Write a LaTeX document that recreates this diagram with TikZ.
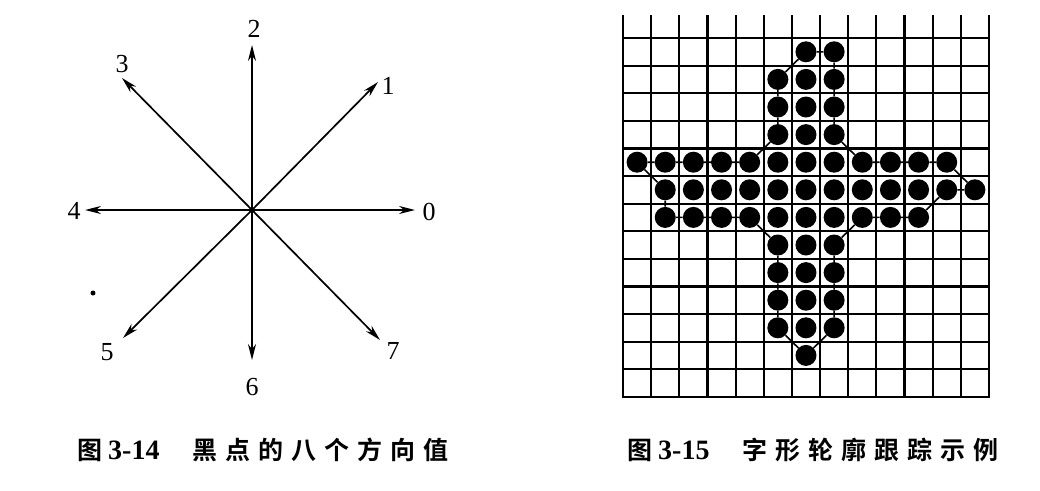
\documentclass[tikz,border=0pt]{standalone}
\usepackage{fontspec}
\setmainfont{Liberation Serif}
\newfontfamily\cjk{Noto Sans CJK SC}[BoldFont={Noto Sans CJK SC Bold}]
\usetikzlibrary{arrows.meta}
\tikzset{
  dirarrow/.style={line width=1.7pt,-{Stealth[length=16pt,width=8pt]}},
  dirlabel/.style={font=\fontsize{26}{28}\selectfont,inner sep=0pt},
  gridline/.style={line width=2.2pt},
  contour/.style={line width=1.6pt},
  dot/.style={circle,fill=black,inner sep=0pt,minimum size=21pt},
  caption/.style={anchor=west,inner sep=0pt},
}
\begin{document}
\begin{tikzpicture}[x=1pt,y=-1pt]
\useasboundingbox (0,0) rectangle (1040,490);
% ---- left: eight directions ----
\coordinate (O) at (252,210);
\coordinate (t0) at (415,210);
\coordinate (t1) at (378,82);
\coordinate (t2) at (252,45);
\coordinate (t3) at (122,78);
\coordinate (t4) at (85,210);
\coordinate (t5) at (123,338);
\coordinate (t6) at (252,360);
\coordinate (t7) at (380,340);
\foreach \k in {0,...,7} {\draw[dirarrow] (O) -- (t\k);}
\fill (O) circle (3);
\node[dirlabel] (l0) at (429,212) {0};
\node[dirlabel] (l1) at (388,86) {1};
\node[dirlabel] (l2) at (254,29) {2};
\node[dirlabel] (l3) at (122,64) {3};
\node[dirlabel] (l4) at (74,211) {4};
\node[dirlabel] (l5) at (107,352) {5};
\node[dirlabel] (l6) at (252,387) {6};
\node[dirlabel] (l7) at (393,351) {7};
\fill (93,293) circle (2.5);
% ---- right: grid ----
\foreach \i in {0,...,13} {\draw[gridline] ({623+\i*28.15},15) -- ({623+\i*28.15},397);}
\foreach \j in {0,...,13} {\draw[gridline] (622,{38+\j*27.6}) -- (990,{38+\j*27.6});}
\foreach \r/\cs in {1/{6,7},2/{5,6,7},3/{5,6,7},4/{5,6,7},5/{0,...,11},6/{1,...,12},7/{1,...,10},8/{5,6,7},9/{5,6,7},10/{5,6,7},11/{5,6,7},12/{6}} {
  \foreach \c in \cs {\node[dot] (d\r-\c) at ({623+(\c+0.5)*28.15},{38+(\r-0.5)*27.6}) {};}
}
\draw[contour] (d1-6)--(d1-7)--(d2-7)--(d3-7)--(d4-7)--(d5-8)--(d5-9)--(d5-10)--(d5-11)--(d6-12)--(d6-11)--(d7-10)--(d7-9)--(d7-8)--(d8-7)--(d9-7)--(d10-7)--(d11-7)--(d12-6)--(d11-5)--(d10-5)--(d9-5)--(d8-5)--(d7-4)--(d7-3)--(d7-2)--(d7-1)--(d6-1)--(d5-0)--(d5-1)--(d5-2)--(d5-3)--(d5-4)--(d4-5)--(d3-5)--(d2-5)--(d1-6);
% ---- captions ----
\node[caption] (cap1) at (77,450) {\fontsize{25}{27}\selectfont\cjk\bfseries 图\kern6pt{\rmfamily\fontsize{28}{30}\selectfont 3-14}\kern33pt 黑\kern8pt 点\kern8pt 的\kern8pt 八\kern8pt 个\kern8pt 方\kern8pt 向\kern8pt 值};
\node[caption] (cap2) at (627,450) {\fontsize{25}{27}\selectfont\cjk\bfseries 图\kern6pt{\rmfamily\fontsize{28}{30}\selectfont 3-15}\kern33pt 字\kern8pt 形\kern8pt 轮\kern8pt 廓\kern8pt 跟\kern8pt 踪\kern8pt 示\kern8pt 例};
\end{tikzpicture}
\end{document}
